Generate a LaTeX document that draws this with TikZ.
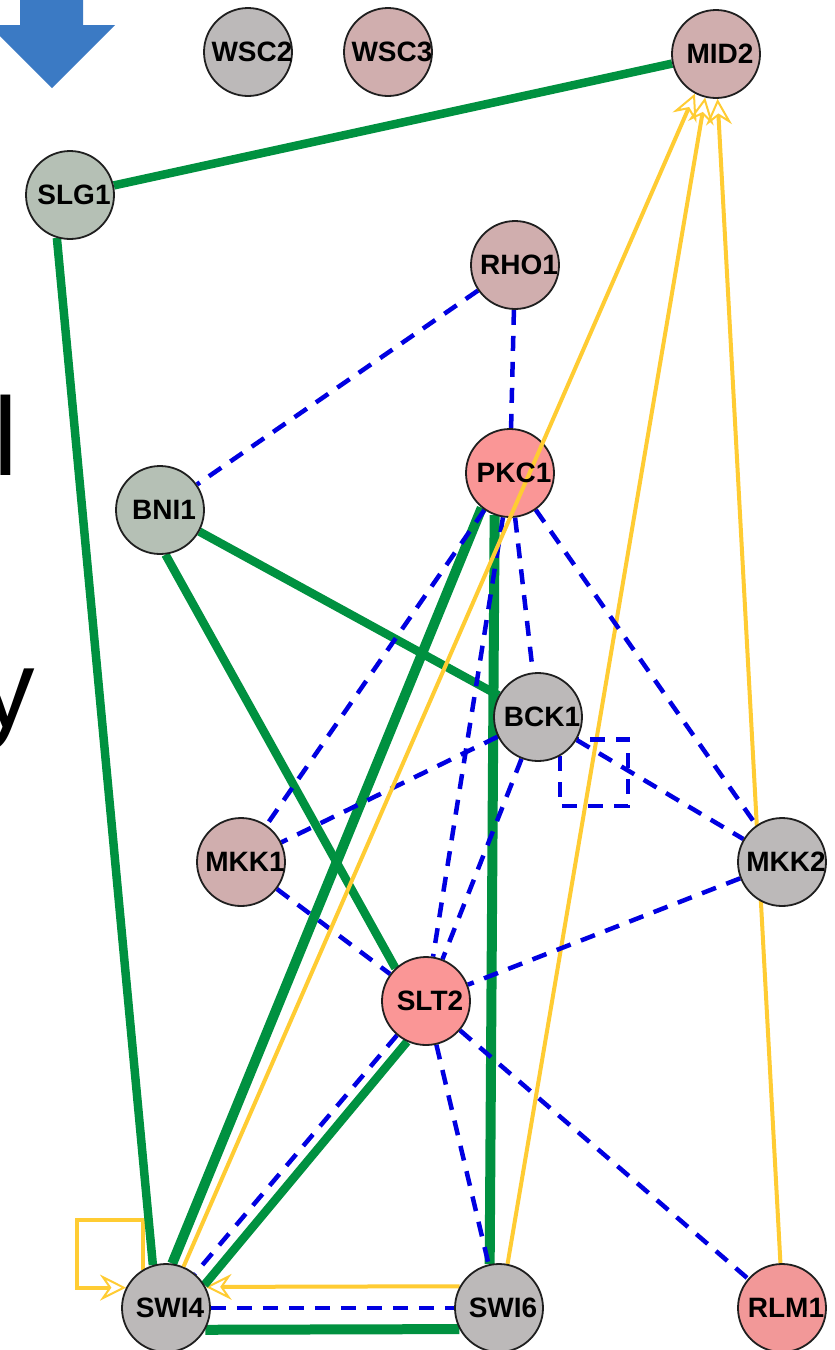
\documentclass[tikz,border=0pt]{standalone}
\usepackage{fontspec}
\setmainfont{Liberation Sans}
\usetikzlibrary{arrows.meta}
\definecolor{ggray}{RGB}{188,185,185}
\definecolor{gpink}{RGB}{208,174,174}
\definecolor{gsalmon}{RGB}{250,150,150}
\definecolor{grlm}{RGB}{242,152,152}
\definecolor{ggreen}{RGB}{181,192,181}
\definecolor{egreen}{RGB}{0,145,64}
\definecolor{eblue}{RGB}{0,0,225}
\definecolor{eyellow}{RGB}{255,204,51}
\definecolor{arrowblue}{RGB}{59,122,196}
\pgfdeclarelayer{bg}
\pgfdeclarelayer{edges}
\pgfdeclarelayer{labels}
\pgfsetlayers{bg,edges,main,labels}
\begin{document}
\begin{tikzpicture}[x=1pt,y=-1pt,
 gene/.style={circle, draw=black!88, line width=1.8pt, minimum size=88pt, inner sep=0pt},
 glabel/.style={inner sep=0pt, xshift=4pt, font=\bfseries\fontsize{28}{28}\selectfont},
 gline/.style={draw=egreen, line width=8.5pt},
 gthick/.style={draw=egreen, line width=10pt},
 bdash/.style={draw=eblue, line width=4.5pt, dash pattern=on 15pt off 11pt},
 yarr/.style={draw=eyellow, line width=4pt, -{Stealth[open, length=26pt, width=26pt, inset=9pt, line width=2pt]}},
 frag/.style={inner sep=0pt, anchor=base west, font=\fontsize{111}{111}\selectfont}
]
\begin{pgfonlayer}{bg}
\fill[white] (0,0) rectangle (835,1350);
\end{pgfonlayer}
\useasboundingbox (0,0) rectangle (835,1350);

% big blue arrow (cropped)
\fill[arrowblue] (20,-5) -- (83,-5) -- (83,25) -- (115,25) -- (52,88) -- (-11,25) -- (20,25) -- cycle;

% cropped slide text
\node[frag] (fragl) at (-6.5,475) {l};
\node[frag] (fragy) at (-21,727) {y};

% nodes
\node[gene, fill=ggray]   (WSC2) at (248,52) {};
\node[gene, fill=gpink]   (WSC3) at (388,52) {};
\node[gene, fill=gpink]   (MID2) at (716,54) {};
\node[gene, fill=ggreen]  (SLG1) at (70,195) {};
\node[gene, fill=gpink]   (RHO1) at (515,265) {};
\node[gene, fill=gsalmon] (PKC1) at (510,473) {};
\node[gene, fill=ggreen]  (BNI1) at (160,510) {};
\node[gene, fill=ggray]   (BCK1) at (538,717) {};
\node[gene, fill=gpink]   (MKK1) at (241,862) {};
\node[gene, fill=ggray]   (MKK2) at (782,862) {};
\node[gene, fill=gsalmon] (SLT2) at (426,1001) {};
\node[gene, fill=ggray]   (SWI4) at (166,1308) {};
\node[gene, fill=ggray]   (SWI6) at (499,1308) {};
\node[gene, fill=grlm]    (RLM1) at (782,1308) {};

\coordinate (loopA) at (77,1220);
\coordinate (loopB) at (628,806);

\begin{pgfonlayer}{edges}
% yellow
\draw[yarr] (SWI6.79.5) -- (MID2.256.6);
\draw[yarr] (RLM1.92.6) -- (MID2.272.5);
\draw[yarr] (SWI6.151.5) -- (SWI4.28.5);
\draw[yarr] (SWI4.121) |- (loopA) |- (SWI4.153);
% green
\draw[gline] (SLG1) -- (MID2);
\draw[gline] (SLG1.253) -- (SWI4.107);
\draw[gline] (BNI1) -- (BCK1);
\draw[gline] (BNI1.277) -- (SLT2.133);
\draw[gthick] (PKC1.231) -- (SWI4.82);
\draw[gthick] (PKC1.250) -- (SWI6.102);
\draw[gline] (SLT2.245) -- (SWI4.31);
\draw[gthick] (SWI4.331.5) -- (SWI6.208.5);
% blue dashed
\draw[bdash] (RHO1) -- (BNI1);
\draw[bdash] (RHO1) -- (PKC1);
\draw[bdash] (PKC1) -- (BCK1);
\draw[bdash] (PKC1) -- (MKK1);
\draw[bdash] (PKC1) -- (MKK2);
\draw[bdash] (PKC1) -- (SLT2);
\draw[bdash] (BCK1) -- (MKK1);
\draw[bdash] (BCK1) -- (SLT2);
\draw[bdash] (BCK1) -- (MKK2);
\draw[bdash] (BCK1.299) |- (loopB) |- (BCK1.330);
\draw[bdash] (MKK1) -- (SLT2);
\draw[bdash] (MKK2) -- (SLT2);
\draw[bdash] (SLT2) -- (SWI4);
\draw[bdash] (SLT2) -- (SWI6);
\draw[bdash] (SLT2) -- (RLM1);
\draw[bdash] (SWI4) -- (SWI6);
\end{pgfonlayer}

% yellow edge that runs over the PKC1 circle
\draw[yarr] (SWI4.67.5) -- (MID2.242.4);

\begin{pgfonlayer}{labels}
\node[glabel] (WSC2t) at (WSC2) {WSC2};
\node[glabel] (WSC3t) at (WSC3) {WSC3};
\node[glabel] (MID2t) at (MID2) {MID2};
\node[glabel] (SLG1t) at (SLG1) {SLG1};
\node[glabel] (RHO1t) at (RHO1) {RHO1};
\node[glabel] (PKC1t) at (PKC1) {PKC1};
\node[glabel] (BNI1t) at (BNI1) {BNI1};
\node[glabel] (BCK1t) at (BCK1) {BCK1};
\node[glabel] (MKK1t) at (MKK1) {MKK1};
\node[glabel] (MKK2t) at (MKK2) {MKK2};
\node[glabel] (SLT2t) at (SLT2) {SLT2};
\node[glabel] (SWI4t) at (SWI4) {SWI4};
\node[glabel] (SWI6t) at (SWI6) {SWI6};
\node[glabel] (RLM1t) at (RLM1) {RLM1};
\end{pgfonlayer}
\end{tikzpicture}
\end{document}
